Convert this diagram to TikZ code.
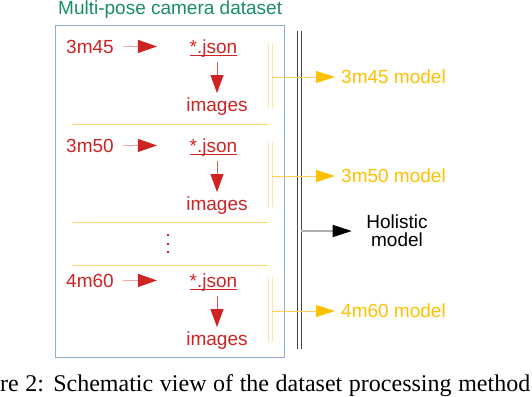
\documentclass[tikz,border=0pt]{standalone}
\usepackage{fontspec}
\setmainfont{Liberation Serif}
\setsansfont{Liberation Sans}
\usetikzlibrary{arrows.meta,calc}
\definecolor{tgreen}{RGB}{25,140,105}
\definecolor{tred}{RGB}{205,35,35}
\definecolor{tredline}{RGB}{215,90,90}
\definecolor{tpink}{RGB}{238,170,170}
\definecolor{tblue}{RGB}{140,175,210}
\definecolor{tyel}{RGB}{255,192,0}
\definecolor{tyellight}{RGB}{255,230,155}
\definecolor{tyelline}{RGB}{255,205,90}
\definecolor{tyelsep}{RGB}{255,215,110}
\definecolor{tgray}{RGB}{175,175,175}
\definecolor{tdark}{RGB}{70,70,70}
\begin{document}
\begin{tikzpicture}[x=1pt,y=-1pt,
  lbl/.style={inner sep=0pt,font=\sffamily\fontsize{19}{22}\selectfont},
  redh/.style={tpink,line width=1pt,-{Triangle[length=19pt,width=13pt,color=tred]}},
  redv/.style={tredline,line width=0.8pt,-{Triangle[length=18pt,width=13pt,color=tred]}},
  ybar/.style={tyellight,line width=1pt},
  ysep/.style={tyelsep,line width=1pt},
  yarrow/.style={tyelline,line width=0.8pt,-{Triangle[length=19pt,width=12pt,color=tyel]}},
  harrow/.style={tgray,line width=1.5pt,-{Triangle[length=19pt,width=12pt,color=black]}},
  dline/.style={tdark,line width=0.7pt}]
\useasboundingbox (0,0) rectangle (532,396);
% title and frame
\node[lbl,text=tgreen,anchor=base west] (title) at (58,15) {Multi-pose camera dataset};
\draw[tblue,line width=1pt] (55,26) rectangle (284,357);
% separators
\draw[ysep] (72,124) -- (268,124);
\draw[ysep] (72,222) -- (268,222);
\draw[ysep] (72,265) -- (268,265);
% vertical dots
\foreach \d in {235,243.5,252} \fill[tred] (167,\d-1) rectangle (169.2,\d+1);
% rows
\foreach \y/\n/\i in {53/3m45/1,152/3m50/2,287/4m60/3}{
  \node[lbl,text=tred,anchor=base west] (l\i) at (66,\y) {\n};
  \node[lbl,text=tred,anchor=base] (j\i) at (213.5,\y) {*.json};
  \draw[tred,line width=0.9pt] ($(j\i.base west)+(0,2.8)$) -- ($(j\i.base east)+(0,2.8)$);
  \node[lbl,text=tred,anchor=base] (i\i) at (217,\y+58) {images};
  \draw[redh] ($(l\i.east)+(9,0)$) -- ($(l\i.east)+(43,0)$);
  \draw[redv] ($(j\i.south -| i\i.north)+(0,5)$) -- ($(i\i.north)+(0,-4)$);
  \draw[ybar] (268,\y-10) -- (268,\y+55);
  \draw[ybar] (272,\y-10) -- (272,\y+55);
  \coordinate (b\i) at (272,\y+24);
  \node[lbl,text=tyel,anchor=base west] (m\i) at (341,\y+30) {\n{} model};
}
% double vertical line
\draw[dline] (297,31) -- (297,349);
\draw[dline] (301,31) -- (301,349);
% arrows to models
\foreach \i in {1,2,3}{
  \draw[yarrow,shorten >=6pt] (b\i) -- (b\i -| m\i.west);
}
% holistic
\node[lbl,align=center,font=\sffamily\fontsize{19}{18}\selectfont] (h) at (397,231) {Holistic\\model};
\coordinate (hs) at (301,231);
\draw[harrow,shorten >=14.5pt] (hs) -- (hs -| h.west);
% caption
\node[anchor=base west,inner sep=0pt,font=\fontsize{24}{28}\selectfont] (cap) at (0,391)
  {\makebox[530pt][s]{re 2: Schematic view of the dataset processing method}};
\end{tikzpicture}
\end{document}
